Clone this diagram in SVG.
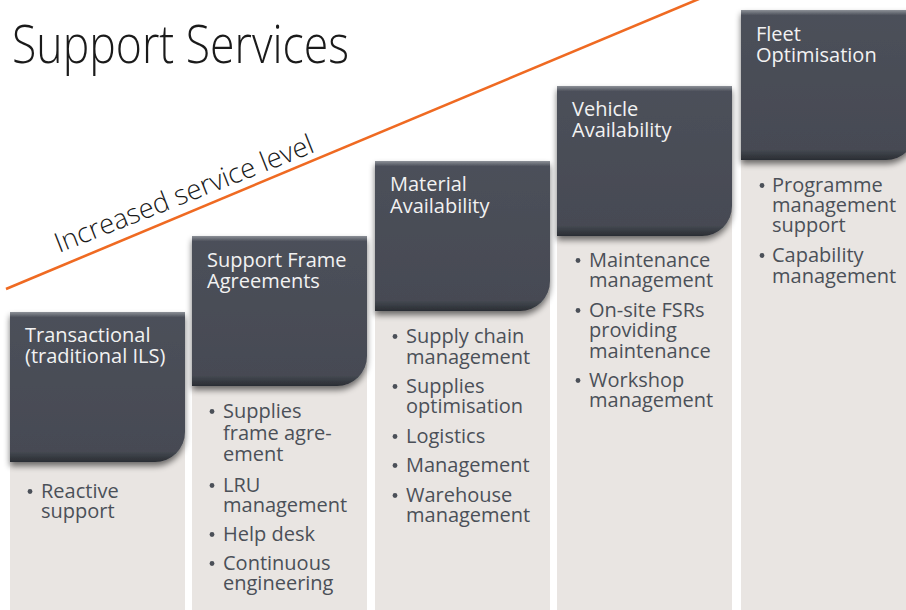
<svg xmlns="http://www.w3.org/2000/svg" width="906" height="610" viewBox="0 0 906 610">
<defs>
<style>
.bg{fill:#e9e5e2}
.box{fill:url(#boxg);filter:url(#sh)}
.bt{font-family:"Open Sans","Liberation Sans",sans-serif;font-size:20px;fill:#f2f2f2;font-weight:400}
.li{font-family:"Open Sans","Liberation Sans",sans-serif;font-size:20px;fill:#4b5058;font-weight:400}
.dot{fill:#4b5058}
.title{font-family:"Open Sans","Liberation Sans",sans-serif;font-weight:300;font-size:54px;fill:#1a1a1a}
.lvl{font-family:"Open Sans","Liberation Sans",sans-serif;font-weight:300;font-size:27.5px;fill:#1a1a1a}
</style>
<linearGradient id="boxg" x1="0" y1="0" x2="0" y2="1">
<stop offset="0" stop-color="#8c9097"/>
<stop offset="0.035" stop-color="#4c505a"/>
<stop offset="0.93" stop-color="#464a53"/>
<stop offset="1" stop-color="#2a2d33"/>
</linearGradient>
<filter id="sh" x="-10%" y="-10%" width="120%" height="130%">
<feGaussianBlur in="SourceAlpha" stdDeviation="3"/>
<feOffset dy="4" result="b"/>
<feComponentTransfer><feFuncA type="linear" slope="0.55"/></feComponentTransfer>
<feMerge><feMergeNode/><feMergeNode in="SourceGraphic"/></feMerge>
</filter>
<path id="bx" d="M0,0 H175 V120 A30,30 0 0 1 145,150 H0 Z"/>
</defs>
<rect width="906" height="610" fill="#ffffff"/>
<text class="title" x="12" y="63" textLength="337" lengthAdjust="spacingAndGlyphs">Support Services</text>
<g id="connectors">
<line x1="6" y1="289" x2="706" y2="-4" stroke="#ef6a22" stroke-width="2.6"/>
</g>
<text class="lvl" transform="translate(59,253) rotate(-21.5)">Increased service level</text>

<g id="col1">
<rect class="bg" x="10" y="330" width="175" height="280"/>
<use href="#bx" class="box" x="10" y="312"/>
<text class="bt" x="25" y="342">Transactional</text>
<text class="bt" x="25" y="363">(traditional ILS)</text>
<circle class="dot" cx="30" cy="491.5" r="2.4"/>
<text class="li" x="41" y="498">Reactive</text>
<text class="li" x="41" y="518">support</text>
</g>

<g id="col2">
<rect class="bg" x="192" y="255" width="175" height="355"/>
<use href="#bx" class="box" x="192" y="236"/>
<text class="bt" x="207" y="267">Support Frame</text>
<text class="bt" x="207" y="288">Agreements</text>
<circle class="dot" cx="212" cy="411.5" r="2.4"/>
<text class="li" x="223" y="418">Supplies</text>
<text class="li" x="223" y="440">frame agre-</text>
<text class="li" x="223" y="461">ement</text>
<circle class="dot" cx="212" cy="485.5" r="2.4"/>
<text class="li" x="223" y="492">LRU</text>
<text class="li" x="223" y="512">management</text>
<circle class="dot" cx="212" cy="534.5" r="2.4"/>
<text class="li" x="223" y="541">Help desk</text>
<circle class="dot" cx="212" cy="563.5" r="2.4"/>
<text class="li" x="223" y="570">Continuous</text>
<text class="li" x="223" y="590">engineering</text>
</g>

<g id="col3">
<rect class="bg" x="375" y="180" width="175" height="430"/>
<use href="#bx" class="box" x="375" y="161"/>
<text class="bt" x="390" y="191">Material</text>
<text class="bt" x="390" y="213">Availability</text>
<circle class="dot" cx="395" cy="336.5" r="2.4"/>
<text class="li" x="406" y="343">Supply chain</text>
<text class="li" x="406" y="364">management</text>
<circle class="dot" cx="395" cy="386.5" r="2.4"/>
<text class="li" x="406" y="393">Supplies</text>
<text class="li" x="406" y="413">optimisation</text>
<circle class="dot" cx="395" cy="436.5" r="2.4"/>
<text class="li" x="406" y="443">Logistics</text>
<circle class="dot" cx="395" cy="465.5" r="2.4"/>
<text class="li" x="406" y="472">Management</text>
<circle class="dot" cx="395" cy="495.5" r="2.4"/>
<text class="li" x="406" y="502">Warehouse</text>
<text class="li" x="406" y="522">management</text>
</g>

<g id="col4">
<rect class="bg" x="557" y="105" width="175" height="505"/>
<use href="#bx" class="box" x="557" y="86"/>
<text class="bt" x="572" y="116">Vehicle</text>
<text class="bt" x="572" y="137">Availability</text>
<circle class="dot" cx="578" cy="260.5" r="2.4"/>
<text class="li" x="589" y="267">Maintenance</text>
<text class="li" x="589" y="287">management</text>
<circle class="dot" cx="578" cy="310.5" r="2.4"/>
<text class="li" x="589" y="317">On-site FSRs</text>
<text class="li" x="589" y="337">providing</text>
<text class="li" x="589" y="358">maintenance</text>
<circle class="dot" cx="578" cy="380.5" r="2.4"/>
<text class="li" x="589" y="387">Workshop</text>
<text class="li" x="589" y="407">management</text>
</g>

<g id="col5">
<rect class="bg" x="741" y="30" width="175" height="580"/>
<use href="#bx" class="box" x="741" y="10"/>
<text class="bt" x="756" y="41">Fleet</text>
<text class="bt" x="756" y="62">Optimisation</text>
<circle class="dot" cx="762" cy="185.5" r="2.4"/>
<text class="li" x="772" y="192">Programme</text>
<text class="li" x="772" y="212">management</text>
<text class="li" x="772" y="232">support</text>
<circle class="dot" cx="762" cy="255.5" r="2.4"/>
<text class="li" x="772" y="262">Capability</text>
<text class="li" x="772" y="283">management</text>
</g>
</svg>
